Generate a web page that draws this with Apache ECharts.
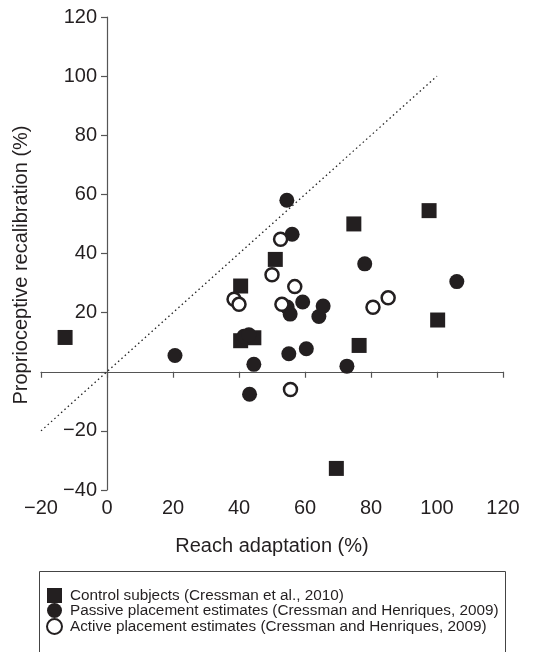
<!DOCTYPE html>
<html>
<head>
<meta charset="utf-8">
<script src="https://cdn.jsdelivr.net/npm/echarts@6/dist/echarts.min.js"></script>
<style>
  html, body { margin: 0; padding: 0; background: #fff; }
  #chart { width: 546px; height: 652px; }
</style>
</head>
<body>
<div id="chart"></div>
<script>
// data: [reach adaptation %, proprioceptive recalibration %]
var controlPts = [
    [-12.7, 11.6], [40.5, 29], [40.5, 10.5], [44.5, 11.5], [51, 38],
    [69.5, -32.7], [74.8, 50], [76.4, 8.9], [97.6, 54.5], [100.2, 17.5]
];
var passivePts = [
    [20.6, 5.5], [41.5, 12], [43, 12.5], [43.2, -7.6], [44.5, 2.5],
    [54.5, 58], [54.6, 21.9], [55.5, 19.5], [55.1, 6.1], [56.1, 46.5],
    [59.3, 23.6], [60.4, 7.8], [64.2, 18.7], [65.5, 22.2], [72.7, 1.9],
    [78.1, 36.5], [106, 30.5]
];
var activePts = [
    [38.5, 24.5], [40, 22.8], [50, 32.8], [52.6, 44.8], [53, 22.8],
    [55.6, -6], [56.9, 28.8], [80.6, 21.8], [85.2, 25]
];
var unityLine = [[-20, -20], [100, 100]];

var seriesNames = [
    'Control subjects (Cressman et al., 2010)',
    'Passive placement estimates (Cressman and Henriques, 2009)',
    'Active placement estimates (Cressman and Henriques, 2009)'
];

var ink = '#231f20';
var axisCol = '#555';

var myChart = echarts.init(document.getElementById('chart'));

// minus sign like the print version
function fmt(v) {
    return String(v).replace('-', '\u2212');
}

var gridLeft = 41, gridRight = 43;
// y axis sits at x = 0, i.e. 20/140 of the plot width in from the left
var yShift = (546 - gridLeft - gridRight) * 20 / 140;

var option = {
    animation: false,
    textStyle: { fontFamily: 'Liberation Sans, Arial, sans-serif' },
    grid: {
        left: gridLeft, right: gridRight, top: 17, bottom: 162,
        containLabel: false, outerBoundsMode: 'none'
    },
    xAxis: [
        {
            // axis line through y = 0
            type: 'value', min: -20, max: 120, interval: 20,
            axisLine: { onZero: true, lineStyle: { color: axisCol, width: 1.2 } },
            axisTick: { show: true, length: 6, lineStyle: { color: axisCol, width: 1.2 } },
            axisLabel: { show: false },
            splitLine: { show: false }
        },
        {
            // labels only, along the bottom
            type: 'value', min: -20, max: 120, interval: 20, position: 'bottom',
            axisLine: { show: false, onZero: false },
            axisTick: { show: false },
            axisLabel: { margin: 8, fontSize: 20, color: ink, formatter: fmt },
            splitLine: { show: false },
            name: 'Reach adaptation (%)',
            nameLocation: 'middle',
            nameGap: 46,
            nameTextStyle: { fontSize: 20, color: ink }
        }
    ],
    yAxis: {
        type: 'value', min: -40, max: 120, interval: 20,
        position: 'left',
        offset: -yShift,
        axisLine: { onZero: false, lineStyle: { color: axisCol, width: 1.2 } },
        axisTick: { show: true, length: 6, lineStyle: { color: axisCol, width: 1.2 } },
        axisLabel: {
            margin: 10, fontSize: 20, color: ink,
            formatter: function (v) { return v === 0 ? '' : fmt(v); }
        },
        splitLine: { show: false }
    },
    legend: {
        orient: 'vertical',
        left: 41, top: 583,
        itemWidth: 15, itemHeight: 15, itemGap: 0,
        textStyle: { fontSize: 15.3, color: ink, padding: [0, 0, 0, 3] },
        data: seriesNames
    },
    graphic: [
        {
            type: 'rect',
            shape: { x: 39.5, y: 571.5, width: 466, height: 100 },
            style: { fill: 'none', stroke: '#444', lineWidth: 1 },
            silent: true
        },
        {
            type: 'text',
            x: 21, y: 265, rotation: Math.PI / 2,
            style: {
                text: 'Proprioceptive recalibration (%)',
                fontSize: 20, fill: ink, align: 'center', verticalAlign: 'middle',
                fontFamily: 'Liberation Sans, Arial, sans-serif'
            }
        }
    ],
    series: [
        {
            type: 'line',
            data: unityLine,
            symbol: 'none',
            silent: true,
            z: 1,
            lineStyle: { color: '#222', width: 1.3, type: [1.5, 3] }
        },
        {
            name: seriesNames[0],
            type: 'scatter',
            symbol: 'rect',
            symbolSize: 15,
            itemStyle: { color: ink, opacity: 1 },
            data: controlPts
        },
        {
            name: seriesNames[1],
            type: 'scatter',
            symbol: 'circle',
            symbolSize: 15,
            itemStyle: { color: ink, opacity: 1 },
            data: passivePts
        },
        {
            name: seriesNames[2],
            type: 'scatter',
            symbol: 'circle',
            symbolSize: 13,
            itemStyle: { color: '#fff', borderColor: ink, borderWidth: 2.5, opacity: 1 },
            data: activePts
        }
    ]
};

myChart.setOption(option);
</script>
</body>
</html>
